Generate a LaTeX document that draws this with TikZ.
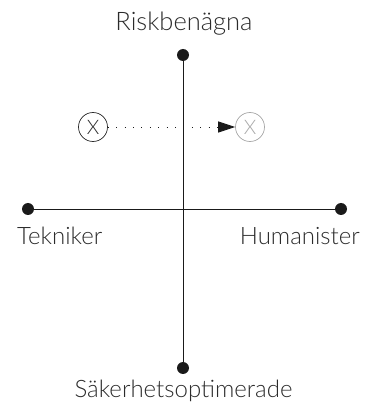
\documentclass[tikz,border=0pt]{standalone}
\usepackage{fontspec}
\setmainfont{Lato Light}
\usetikzlibrary{arrows.meta}
\definecolor{ink}{HTML}{1A1A1A}
\definecolor{txt}{HTML}{2B2B2B}
\definecolor{pale}{HTML}{A8A8A8}
\begin{document}
\begin{tikzpicture}[x=1pt,y=1pt,
  axis/.style={draw=ink, line width=0.9pt},
  enddot/.style={circle, fill=ink, inner sep=0pt, minimum size=12pt},
  lbl/.style={text=txt, font=\fontsize{24}{28}\selectfont, inner sep=0pt},
  xmark/.style={circle, draw=#1, text=#1, line width=0.7pt, minimum size=29pt, inner sep=0pt,
    font=\fontsize{20}{22}\selectfont},
  move/.style={draw=ink, line width=0.9pt, dash pattern=on 0.9pt off 7.5pt,
    -{Triangle[length=17pt,width=11pt]}}
]
\useasboundingbox (0,0) rectangle (377,408);
% axis end points
\node[enddot] (top) at (183,353) {};
\node[enddot] (bot) at (183,40) {};
\node[enddot] (lft) at (28,199) {};
\node[enddot] (rgt) at (341,199) {};
\draw[axis] (top) -- (bot);
\draw[axis] (lft) -- (rgt);
% axis labels
\node[lbl, anchor=base, font=\fontsize{25.5}{28}\selectfont] (risk) at (184,377) {Riskbenägna};
\node[lbl, anchor=base west] (tek) at (17,163) {Tekniker};
\node[lbl, anchor=base east] (hum) at (360,163) {Humanister};
\node[lbl, anchor=base] (sak) at (183.5,11) {Säkerhetsoptimerade};
% shift from one position to another
\node[xmark=txt] (from) at (93,281) {X};
\node[xmark=pale] (to) at (250,281) {X};
\draw[move] (from) -- (to);
\end{tikzpicture}
\end{document}
